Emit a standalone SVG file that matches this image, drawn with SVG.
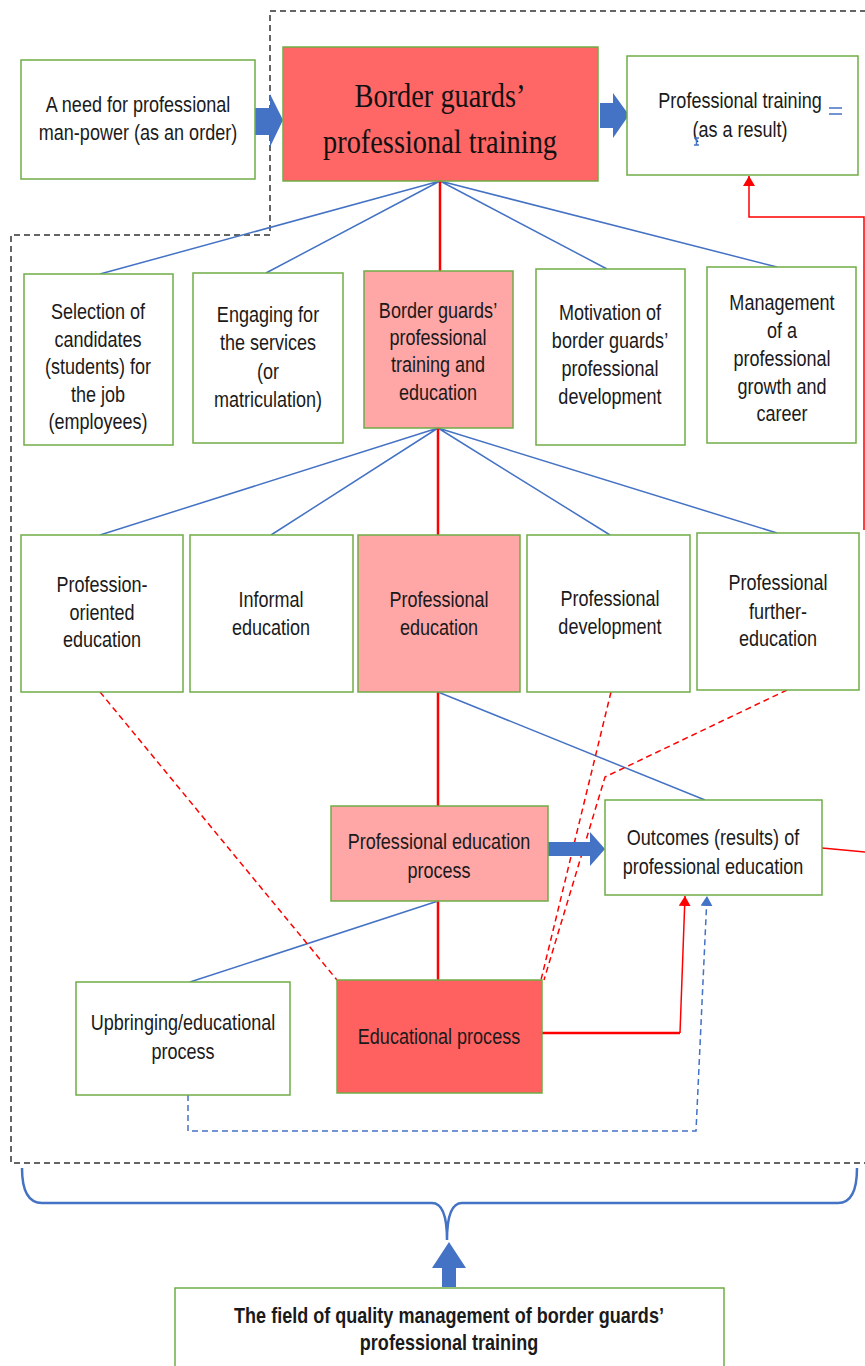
<svg xmlns="http://www.w3.org/2000/svg" width="865" height="1366" viewBox="0 0 865 1366">
<style>
.box{fill:#fff;stroke:#70AD47;stroke-width:1.5}
.dark{fill:#FF6666;stroke:#70AD47;stroke-width:1.5}
.pink{fill:#FFA6A6;stroke:#70AD47;stroke-width:1.5}
.edu{fill:#FF6161;stroke:#70AD47;stroke-width:1.5}
.t{font-family:"Liberation Sans",Arial,sans-serif;font-size:22px;fill:#1a1a1a;text-anchor:middle}
.b{font-weight:bold}
.serif{font-family:"Liberation Serif","Times New Roman",serif;font-size:33px;fill:#111;text-anchor:middle}
.blue{stroke:#4472C4;stroke-width:1.5;fill:none}
.red{stroke:#FF0000;stroke-width:2.5;fill:none}
.redthin{stroke:#FF0000;stroke-width:1.5;fill:none}
.reddash{stroke:#FF0000;stroke-width:1.5;stroke-dasharray:6 4;fill:none}
.bluedash{stroke:#4472C4;stroke-width:1.5;stroke-dasharray:6 4;fill:none}
.frame{stroke:#333;stroke-width:1.5;stroke-dasharray:6 4;fill:none}
.barrow{fill:#4472C4}
.brace{stroke:#4472C4;stroke-width:2.5;fill:none}
</style>
<defs>
<marker id="ar" markerUnits="userSpaceOnUse" markerWidth="10" markerHeight="12" refX="10" refY="6" orient="auto"><path d="M0,0 L10,6 L0,12 z" fill="#FF0000"/></marker>
<marker id="ab" markerUnits="userSpaceOnUse" markerWidth="10" markerHeight="12" refX="10" refY="6" orient="auto"><path d="M0,0 L10,6 L0,12 z" fill="#4472C4"/></marker>
</defs>

<path class="frame" d="M866,11 H270 V235 H11 V1163 H866"/>

<g id="connectors">
<path class="blue" d="M440,181 L100,274 M440,181 L266,273 M440,181 L607,269 M440,181 L777,267"/>
<path class="red" d="M440,181 V271"/>
<path class="blue" d="M438,428 L100,535 M438,428 L271,535 M438,428 L610,535 M438,428 L777,533"/>
<path class="red" d="M438,428 V535"/>
<path class="red" d="M438,692 V806"/>
<path class="blue" d="M438,692 L705,800"/>
<path class="red" d="M438,901 V980"/>
<path class="blue" d="M438,901 L190,982"/>
<path class="reddash" d="M100,692 L337,980"/>
<path class="reddash" d="M611,692 L541,980"/>
<path class="reddash" d="M787,690 L605,777 L544,980"/>
<path class="red" d="M542,1033 H680"/>
<path class="redthin" d="M680,1033 L685,896" marker-end="url(#ar)"/>
<path class="bluedash" d="M188,1095 V1131 H696 L707,896" marker-end="url(#ab)"/>
<path class="redthin" d="M822,848 L865,852"/>
<path class="redthin" d="M864,530 V217 H749 V176" marker-end="url(#ar)"/>
<polygon class="barrow" points="255,108 270,108 270,94 283,120 270,147 270,135 255,135"/>
<polygon class="barrow" points="600,103 613,103 613,93 629,115 613,138 613,128 600,128"/>
<polygon class="barrow" points="548,842 590,842 590,832 605,849 590,866 590,856 548,856"/>
<polygon class="barrow" points="442,1287 456,1287 456,1268 466,1268 449,1242 432,1268 442,1268"/>
<path class="brace" d="M22,1168 Q22,1203 42,1203 L432,1203 Q447,1203 447,1240 Q447,1203 462,1203 L838,1203 Q857,1203 857,1168"/>
</g>

<g id="need">
<rect class="box" x="21" y="60" width="234" height="119"/>
<text class="t" transform="matrix(0.82 0 0 1 138 0)"><tspan x="0" y="112">A need for professional</tspan><tspan x="0" y="140">man-power (as an order)</tspan></text>
</g>

<g id="main">
<rect class="dark" x="283" y="47" width="315" height="134"/>
<text class="serif" transform="matrix(0.86 0 0 1 440 0)"><tspan x="0" y="107">Border guards’</tspan><tspan x="0" y="153">professional training</tspan></text>
</g>

<g id="result">
<rect class="box" x="627" y="56" width="231" height="119"/>
<text class="t" transform="matrix(0.82 0 0 1 740 0)"><tspan x="0" y="108">Professional training</tspan><tspan x="0" y="137">(as a result)</tspan></text>
<path class="blue" d="M829,108 H842 M829,114 H842 M694,138 H699 M696.5,138 V145 M694,145 H699"/>
</g>

<g id="selection">
<rect class="box" x="24" y="274" width="149" height="171"/>
<text class="t" transform="matrix(0.82 0 0 1 98 0)"><tspan x="0" y="319">Selection of</tspan><tspan x="0" y="347">candidates</tspan><tspan x="0" y="374">(students) for</tspan><tspan x="0" y="402">the job</tspan><tspan x="0" y="429">(employees)</tspan></text>
</g>

<g id="engaging">
<rect class="box" x="193" y="273" width="150" height="170"/>
<text class="t" transform="matrix(0.82 0 0 1 268 0)"><tspan x="0" y="322">Engaging for</tspan><tspan x="0" y="350">the services</tspan><tspan x="0" y="379">(or</tspan><tspan x="0" y="407">matriculation)</tspan></text>
</g>

<g id="bgpte">
<rect class="pink" x="364" y="271" width="149" height="157"/>
<text class="t" transform="matrix(0.82 0 0 1 438 0)"><tspan x="0" y="318">Border guards’</tspan><tspan x="0" y="345">professional</tspan><tspan x="0" y="372">training and</tspan><tspan x="0" y="400">education</tspan></text>
</g>

<g id="motivation">
<rect class="box" x="536" y="269" width="149" height="176"/>
<text class="t" transform="matrix(0.82 0 0 1 610 0)"><tspan x="0" y="320">Motivation of</tspan><tspan x="0" y="348">border guards’</tspan><tspan x="0" y="376">professional</tspan><tspan x="0" y="404">development</tspan></text>
</g>

<g id="management">
<rect class="box" x="707" y="267" width="149" height="176"/>
<text class="t" transform="matrix(0.82 0 0 1 782 0)"><tspan x="0" y="310">Management</tspan><tspan x="0" y="338">of a</tspan><tspan x="0" y="366">professional</tspan><tspan x="0" y="394">growth and</tspan><tspan x="0" y="421">career</tspan></text>
</g>

<g id="profOriented">
<rect class="box" x="21" y="535" width="162" height="157"/>
<text class="t" transform="matrix(0.82 0 0 1 102 0)"><tspan x="0" y="592">Profession-</tspan><tspan x="0" y="620">oriented</tspan><tspan x="0" y="647">education</tspan></text>
</g>

<g id="informal">
<rect class="box" x="190" y="535" width="163" height="157"/>
<text class="t" transform="matrix(0.82 0 0 1 271 0)"><tspan x="0" y="607">Informal</tspan><tspan x="0" y="635">education</tspan></text>
</g>

<g id="profEducation">
<rect class="pink" x="358" y="535" width="162" height="157"/>
<text class="t" transform="matrix(0.82 0 0 1 439 0)"><tspan x="0" y="607">Professional</tspan><tspan x="0" y="635">education</tspan></text>
</g>

<g id="profDevelopment">
<rect class="box" x="527" y="535" width="163" height="157"/>
<text class="t" transform="matrix(0.82 0 0 1 610 0)"><tspan x="0" y="606">Professional</tspan><tspan x="0" y="634">development</tspan></text>
</g>

<g id="furtherEducation">
<rect class="box" x="697" y="533" width="162" height="157"/>
<text class="t" transform="matrix(0.82 0 0 1 778 0)"><tspan x="0" y="590">Professional</tspan><tspan x="0" y="619">further-</tspan><tspan x="0" y="646">education</tspan></text>
</g>

<g id="pep">
<rect class="pink" x="331" y="806" width="217" height="95"/>
<text class="t" transform="matrix(0.82 0 0 1 439 0)"><tspan x="0" y="849">Professional education</tspan><tspan x="0" y="878">process</tspan></text>
</g>

<g id="outcomes">
<rect class="box" x="605" y="800" width="217" height="95"/>
<text class="t" transform="matrix(0.82 0 0 1 713 0)"><tspan x="0" y="845">Outcomes (results) of</tspan><tspan x="0" y="874">professional education</tspan></text>
</g>

<g id="upbringing">
<rect class="box" x="76" y="982" width="214" height="113"/>
<text class="t" transform="matrix(0.82 0 0 1 183 0)"><tspan x="0" y="1030">Upbringing/educational</tspan><tspan x="0" y="1059">process</tspan></text>
</g>

<g id="educational">
<rect class="edu" x="337" y="980" width="205" height="113"/>
<text class="t" transform="matrix(0.82 0 0 1 439 0)"><tspan x="0" y="1044">Educational process</tspan></text>
</g>

<g id="quality">
<rect class="box" x="175" y="1288" width="549" height="90"/>
<text class="t b" transform="matrix(0.82 0 0 1 449 0)"><tspan x="0" y="1323">The field of quality management of border guards’</tspan><tspan x="0" y="1350">professional training</tspan></text>
</g>
</svg>
